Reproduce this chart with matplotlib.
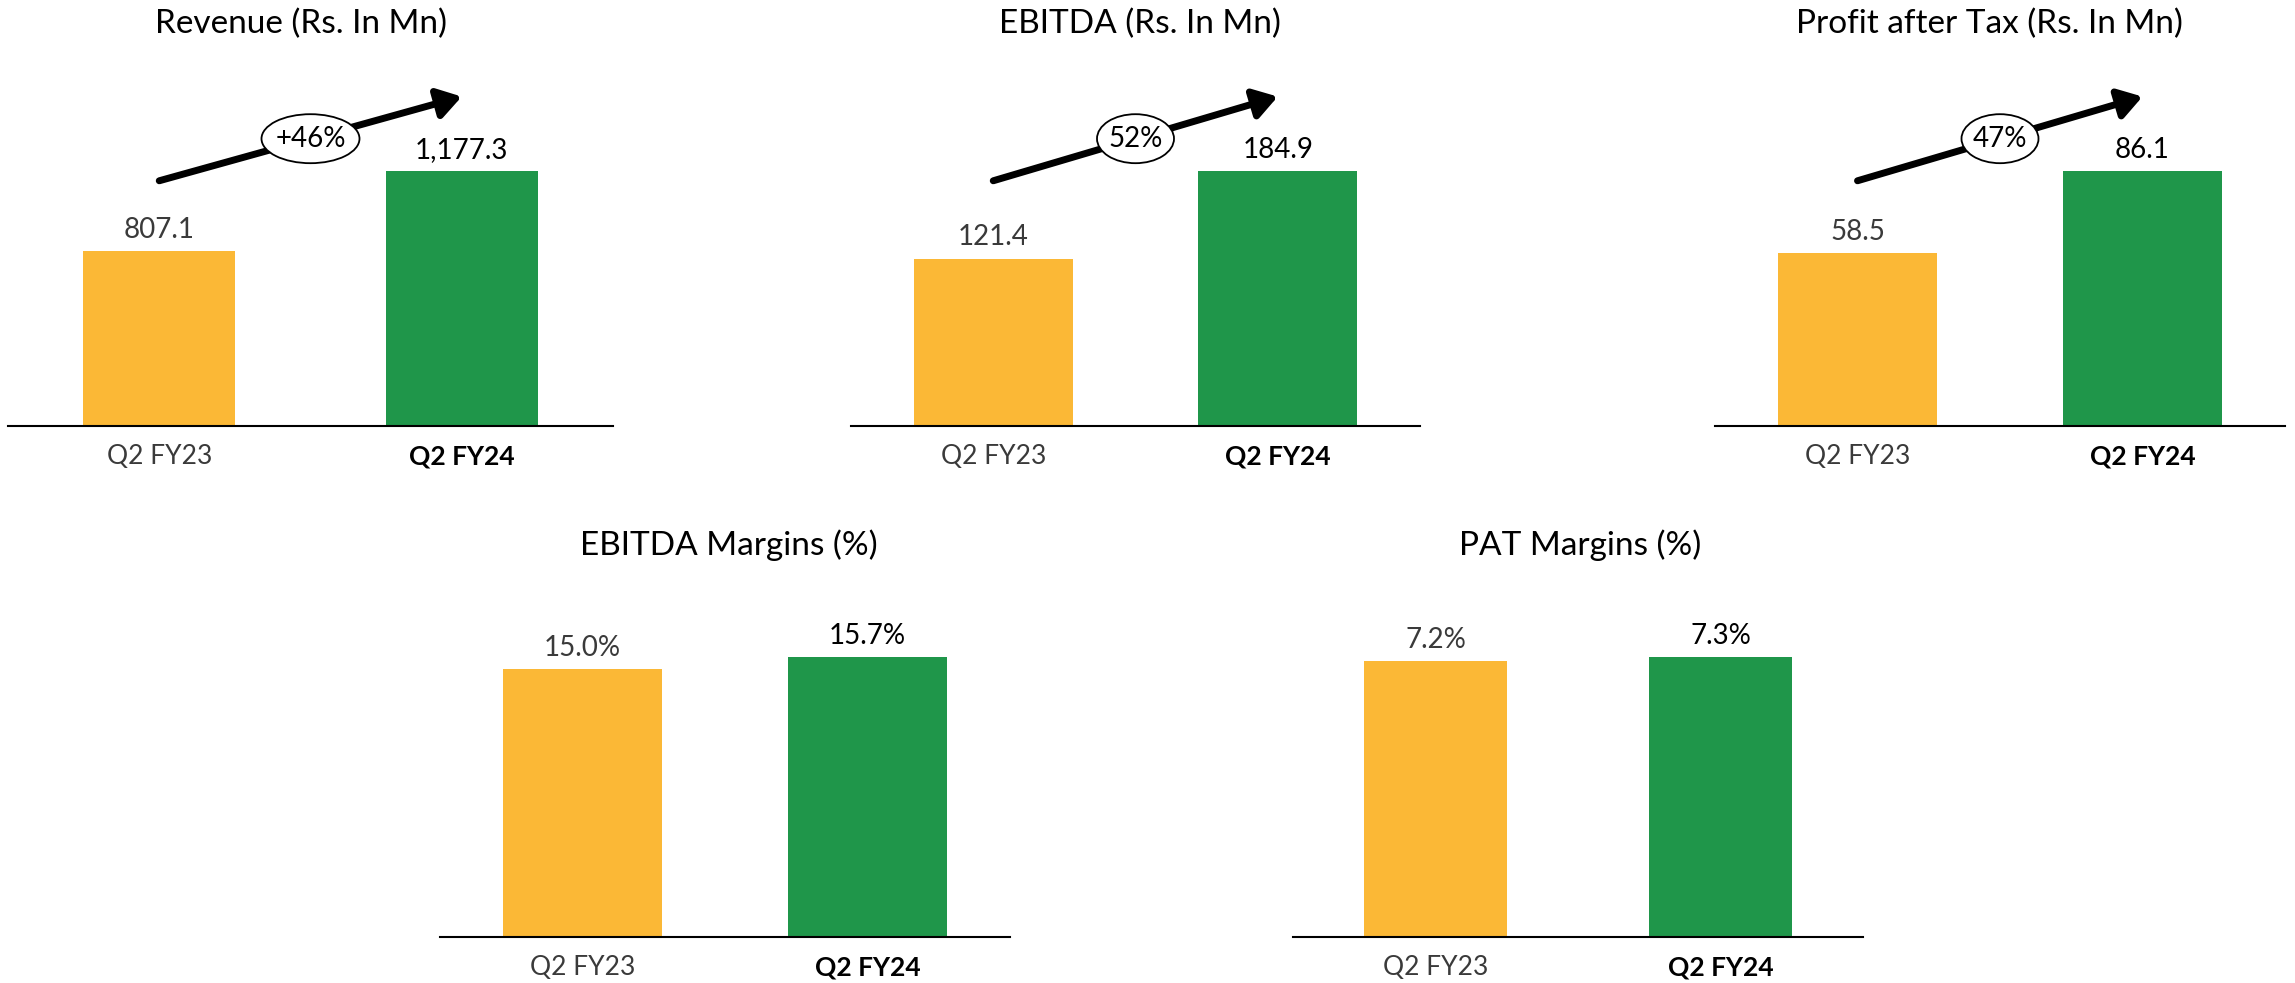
import matplotlib
matplotlib.use("Agg")
import matplotlib.pyplot as plt
from matplotlib.patches import Ellipse
from matplotlib.transforms import ScaledTranslation

plt.rcParams["font.family"] = ["Lato", "DejaVu Sans"]

W, H, DPI = 2295, 983, 100

categories = ["Q2 FY23", "Q2 FY24"]
revenue = [807.1, 1177.3]
ebitda = [121.4, 184.9]
pat = [58.5, 86.1]
ebitda_margin = [15.0, 15.7]
pat_margin = [7.2, 7.3]
growth_labels = ["+46%", "52%", "47%", None, None]

titles = [
    "Revenue (Rs. In Mn)",
    "EBITDA (Rs. In Mn)",
    "Profit after Tax (Rs. In Mn)",
    "EBITDA Margins (%)",
    "PAT Margins (%)",
]

ORANGE = "#FBB836"
GREEN = "#1F964A"
LIGHT = "#3a3a3a"

# layout in pixels: axis line x0..x1, bar width as fraction of slot, top, baseline,
# title centre / baseline, headroom factor, ellipse width
layouts = [
    dict(x0=8, x1=613, bw=0.503, top=60, base=426, tx=301, ty=33, head=1.437, ew=98),
    dict(x0=851, x1=1420, bw=0.558, top=60, base=426, tx=1140, ty=33, head=1.437, ew=77),
    dict(x0=1715, x1=2285, bw=0.558, top=60, base=426, tx=1989, ty=33, head=1.437, ew=77),
    dict(x0=440, x1=1010, bw=0.558, top=580, base=937, tx=729, ty=555, head=1.275, ew=0),
    dict(x0=1293, x1=1863, bw=0.502, top=580, base=937, tx=1580, ty=555, head=1.275, ew=0),
]

series = [revenue, ebitda, pat, ebitda_margin, pat_margin]
fmts = ["{:,.1f}", "{:,.1f}", "{:,.1f}", "{:.1f}%", "{:.1f}%"]


def panel(fig, vals, lay, title, fmt, growth):
    ax = fig.add_axes([lay["x0"] / W, 1 - lay["base"] / H,
                       (lay["x1"] - lay["x0"]) / W, (lay["base"] - lay["top"]) / H])
    x = [0, 1]
    ax.bar(x, vals, width=lay["bw"], color=[ORANGE, GREEN])
    ax.set_xlim(-0.5, 1.5)
    ax.set_ylim(0, max(vals) * lay["head"])
    for s in ["top", "right", "left"]:
        ax.spines[s].set_visible(False)
    ax.spines["bottom"].set_linewidth(1.5)
    ax.spines["bottom"].set_color("black")
    ax.set_yticks([])
    ax.set_xticks(x)
    ax.set_xticklabels(categories)
    ax.tick_params(axis="x", length=0, pad=13, labelsize=19)
    tl = ax.get_xticklabels()
    tl[0].set_color(LIGHT)
    tl[1].set_fontweight("bold")
    tl[1].set_color("black")

    for i, v in enumerate(vals):
        ax.annotate(fmt.format(v), (i, v), xytext=(0, 6), textcoords="offset points",
                    ha="center", va="bottom", fontsize=20,
                    color=LIGHT if i == 0 else "black")

    fig.text(lay["tx"] / W, 1 - lay["ty"] / H, title, ha="center", va="baseline",
             fontsize=24, color="black")

    if growth:
        tr = ax.get_xaxis_transform()
        y0, y1 = 0.67, 0.90
        ax.annotate("", xy=(1, y1), xytext=(0, y0), xycoords=tr, textcoords=tr,
                    arrowprops=dict(arrowstyle="-|>,head_length=0.7,head_width=0.45",
                                    lw=5, color="black", shrinkA=0, shrinkB=0,
                                    mutation_scale=20),
                    annotation_clip=False)
        ym = (y0 + y1) / 2
        etr = fig.dpi_scale_trans + ScaledTranslation(0.5, ym, tr)
        ax.add_patch(Ellipse((0, 0), lay["ew"] / DPI, 0.49, transform=etr,
                             fc="white", ec="black", lw=1.3, zorder=5, clip_on=False))
        ax.text(0.5, ym, growth, transform=tr, ha="center", va="center",
                fontsize=20, color="black", zorder=6)
    return ax


fig = plt.figure(figsize=(W / DPI, H / DPI), dpi=DPI)
fig.patch.set_facecolor("white")
for vals, lay, title, fmt, g in zip(series, layouts, titles, fmts, growth_labels):
    panel(fig, vals, lay, title, fmt, g)

fig.savefig("out.png", dpi=DPI, facecolor="white")
plt.close(fig)
